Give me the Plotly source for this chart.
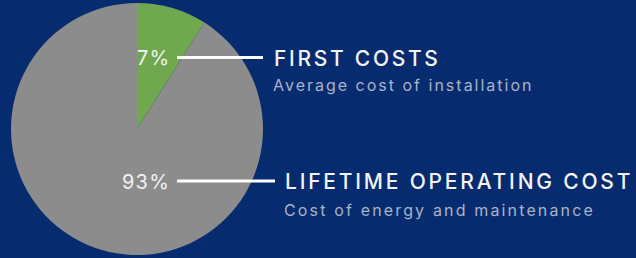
import plotly.graph_objects as go

categories = ["First costs", "Lifetime operating cost"]
slice_values = [9, 91]          # wedge sizes as drawn in the picture
pct_labels = ["7%", "93%"]
titles = ["FIRST COSTS", "LIFETIME OPERATING COST"]
subtitles = ["Average cost of installation", "Cost of energy and maintenance"]
colors = ["#6fa84f", "#8c8c8c"]

W, H = 636, 258
BG = "#062b6e"

fig = go.Figure()
fig.add_trace(go.Pie(
    labels=categories, values=slice_values, sort=False, direction="clockwise",
    rotation=0, marker=dict(colors=colors, line=dict(width=0)),
    textinfo="none", hoverinfo="label+value", showlegend=False,
    domain=dict(x=[11/W, 263/W], y=[3/H, 255/H]),
))

font = "Inter, Open Sans, sans-serif"


def spaced(t, ls):
    return f'<span style="letter-spacing:{ls}px">{t}</span>'


rows = [
    dict(py=57.5, px_end=177, line_x1=263, tx=272, ty=57.5, sy=84, ls_t=2.7, ls_s=2.0),
    dict(py=181, px_end=177, line_x1=275, tx=283, ty=180.5, sy=208.5, ls_t=2.8, ls_s=2.15),
]
for i, r in enumerate(rows):
    yy = 1 - r["py"]/H
    fig.add_annotation(x=(r["px_end"]-5)/W, y=1 - (r["py"] + 1)/H, xref="paper", yref="paper",
                       text=spaced(pct_labels[i], 1.2), showarrow=False, xanchor="right", yanchor="middle",
                       font=dict(family=font, size=20, color="#f2f2f2"))
    fig.add_shape(type="line", xref="paper", yref="paper",
                  x0=r["px_end"]/W, x1=r["line_x1"]/W, y0=yy, y1=yy,
                  line=dict(color="white", width=3))
    fig.add_annotation(x=r["tx"]/W, y=1 - (r["ty"] + 1)/H, xref="paper", yref="paper",
                       text=spaced(titles[i], r["ls_t"]), showarrow=False, xanchor="left", yanchor="middle",
                       font=dict(family=font, size=21, color="#f4f4f4", weight=500))
    fig.add_annotation(x=(r["tx"] - 1)/W, y=1 - (r["sy"] + 1)/H, xref="paper", yref="paper",
                       text=spaced(subtitles[i], r["ls_s"]), showarrow=False, xanchor="left", yanchor="middle",
                       font=dict(family=font, size=16, color="#aab4c8"))

fig.update_layout(width=W, height=H, margin=dict(l=0, r=0, t=0, b=0),
                  paper_bgcolor=BG, plot_bgcolor=BG)
fig.write_html("out.html", config={"displayModeBar": False},
               post_script="document.body.style.margin='0';")
